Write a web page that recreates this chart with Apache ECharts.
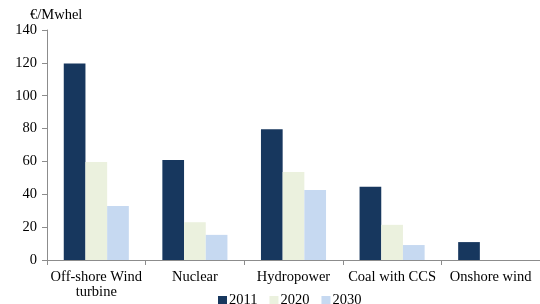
<!DOCTYPE html>
<html>
<head>
<meta charset="utf-8">
<script src="https://cdn.jsdelivr.net/npm/echarts@6/dist/echarts.min.js"></script>
<style>
  html, body { margin: 0; padding: 0; background: #fff; }
  #chart { width: 540px; height: 304px; }
</style>
</head>
<body>
<div id="chart"></div>
<script>
  // data
  var categories = ['Off-shore Wind\nturbine', 'Nuclear', 'Hydropower', 'Coal with CCS', 'Onshore wind'];
  var cost2011 = [119.6, 60.8, 79.6, 44.6, 10.9];
  var cost2020 = [59.6, 23, 53.5, 21.4, 0];
  var cost2030 = [32.9, 15.3, 42.6, 9.1, 0];
  var yTicks = [0, 20, 40, 60, 80, 100, 120, 140];

  var font = 'Times New Roman, serif';
  var axisGray = '#8c8c8c';

  var chart = echarts.init(document.getElementById('chart'));
  var option = {
    animation: false,
    textStyle: { fontFamily: font, color: '#000' },
    grid: { left: 47, right: -5, top: 30, bottom: 44, containLabel: false },
    legend: {
      left: 213,
      top: 288,
      itemWidth: 9,
      itemHeight: 9,
      itemGap: 12,
      icon: 'rect',
      textStyle: { fontFamily: font, fontSize: 14.5, color: '#000', padding: [0, 0, 0, -3] },
      data: ['2011', '2020', '2030']
    },
    xAxis: {
      type: 'category',
      data: categories,
      axisLine: { lineStyle: { color: axisGray, width: 1 } },
      axisTick: { show: true, length: 5, alignWithLabel: false, lineStyle: { color: axisGray } },
      axisLabel: { interval: 0, margin: 10, fontFamily: font, fontSize: 14.5, color: '#000', lineHeight: 15 }
    },
    yAxis: {
      type: 'value',
      min: yTicks[0],
      max: yTicks[yTicks.length - 1],
      interval: 20,
      name: '€/Mwhel',
      nameLocation: 'end',
      nameGap: -3,
      nameTextStyle: { fontFamily: font, fontSize: 14.5, color: '#000', align: 'left', padding: [0, 0, 0, -17] },
      axisLine: { show: true, lineStyle: { color: axisGray, width: 1 } },
      axisTick: { show: true, length: 5, lineStyle: { color: axisGray } },
      axisLabel: { margin: 10, fontFamily: font, fontSize: 14.5, color: '#000' },
      splitLine: { show: false }
    },
    series: [
      { name: '2011', type: 'bar', data: cost2011, barGap: '0%', barCategoryGap: '34%',
        itemStyle: { color: '#17375e' } },
      { name: '2020', type: 'bar', data: cost2020,
        itemStyle: { color: '#ebf1de' } },
      { name: '2030', type: 'bar', data: cost2030,
        itemStyle: { color: '#c6d9f1' } }
    ]
  };
  chart.setOption(option);
</script>
</body>
</html>
